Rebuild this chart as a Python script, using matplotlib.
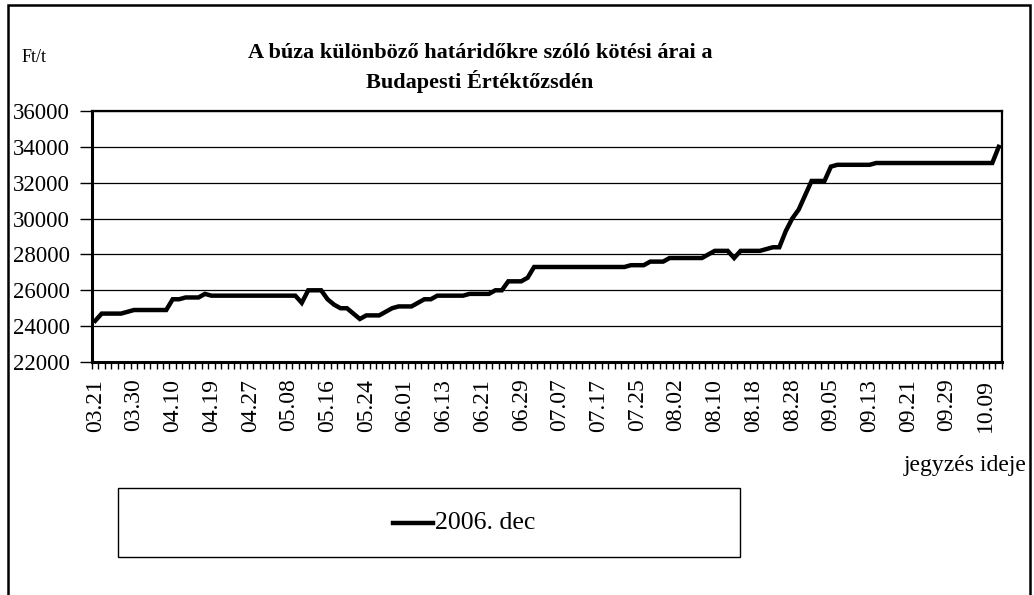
#!/usr/bin/env python3
import numpy as np
import matplotlib.pyplot as plt
from matplotlib.patches import Rectangle
from matplotlib.lines import Line2D

# ---------------- DATA ----------------
# daily closing prices (Ft/t), one value per trading day, 03.21 .. 10.11
prices = (
    [24300] + [24700] * 4 + [24800] + [24900] * 6          # 0-11
    + [25500] * 2 + [25600] * 3 + [25800] + [25700] * 14   # 12-31
    + [25300] + [26000] * 3 + [25500, 25200, 25000, 25000, 24700, 24400]  # 32-41
    + [24600] * 3 + [24800, 25000] + [25100] * 3 + [25300]  # 42-50
    + [25500] * 2 + [25700] * 5 + [25800] * 4 + [26000] * 2  # 51-63
    + [26500] * 3 + [26700] + [27300] * 15                  # 64-82
    + [27400] * 3 + [27600] * 3 + [27800] * 6 + [28000]     # 83-95
    + [28200] * 3 + [27800] + [28200] * 4 + [28300]         # 96-104
    + [28400] * 2 + [29300, 30000, 30500, 31300]            # 105-110
    + [32100] * 3 + [32900] + [33000] * 6 + [33100] * 19 + [34000]  # 111-140
)

tick_labels = ["03.21", "03.30", "04.10", "04.19", "04.27", "05.08", "05.16",
               "05.24", "06.01", "06.13", "06.21", "06.29", "07.07", "07.17",
               "07.25", "08.02", "08.10", "08.18", "08.28", "09.05", "09.13",
               "09.21", "09.29", "10.09"]
LABEL_STEP = 6

title = "A búza különböző határidőkre szóló kötési árai a\nBudapesti Értéktőzsdén"
unit_label = "Ft/t"
x_label = "jegyzés ideje"
series_name = "2006. dec"
# --------------------------------------

plt.rcParams["font.family"] = ["Liberation Serif", "DejaVu Serif"]


def main():
    fig = plt.figure(figsize=(10.34, 5.95), dpi=100)
    ax = fig.add_axes([0.089, 0.3916, 0.880, 0.4218])

    n = len(prices)
    x = np.arange(n)
    ax.plot(x, prices, color="black", linewidth=3.2, solid_joinstyle="miter")

    ax.set_xlim(-0.5, n - 0.5)
    ax.set_ylim(22000, 36000)
    ax.set_yticks(np.arange(22000, 36001, 2000))
    ax.yaxis.grid(True, color="black", linewidth=0.9)
    ax.set_axisbelow(True)

    # category boundary ticks, labels every 6th category
    ax.set_xticks(np.arange(-0.5, n, 1.0), minor=True)
    ax.set_xticks(np.arange(0, n, LABEL_STEP)[:len(tick_labels)])
    ax.set_xticklabels(tick_labels, rotation=90, fontsize=17)
    ax.tick_params(axis="x", which="major", length=0, pad=12)
    ax.tick_params(axis="x", which="minor", length=5, width=1, direction="out")
    ax.tick_params(axis="y", length=9, width=1, labelsize=16.5, pad=7)

    for s in ax.spines.values():
        s.set_color("black")
        s.set_linewidth(1.6)
    ax.spines["left"].set_linewidth(2.2)
    ax.spines["bottom"].set_linewidth(2.2)

    fig.text(0.464, 0.886, title, ha="center", va="center", fontsize=16,
             fontweight="bold", linespacing=1.4)
    fig.text(0.021, 0.903, unit_label, ha="left", va="center", fontsize=13)
    fig.text(0.993, 0.218, x_label, ha="right", va="center", fontsize=17)

    # legend box
    fig.patches.append(Rectangle((118 / 1034, 1 - 557 / 595), 622 / 1034, 69 / 595,
                                 transform=fig.transFigure, fill=False,
                                 edgecolor="black", linewidth=1.0))
    fig.lines.append(Line2D([393 / 1034, 433 / 1034], [1 - 523 / 595] * 2,
                            transform=fig.transFigure, color="black", linewidth=3.2))
    fig.text(435 / 1034, 1 - 523 / 595, series_name, ha="left", va="center", fontsize=18.5)

    # outer chart frame
    fig.patches.append(Rectangle((8 / 1034, -0.05), 1022 / 1034, 1 - 5 / 595 + 0.05,
                                 transform=fig.transFigure, fill=False,
                                 edgecolor="black", linewidth=1.8))

    fig.savefig("out.png", dpi=100)
    plt.close(fig)


if __name__ == "__main__":
    main()
